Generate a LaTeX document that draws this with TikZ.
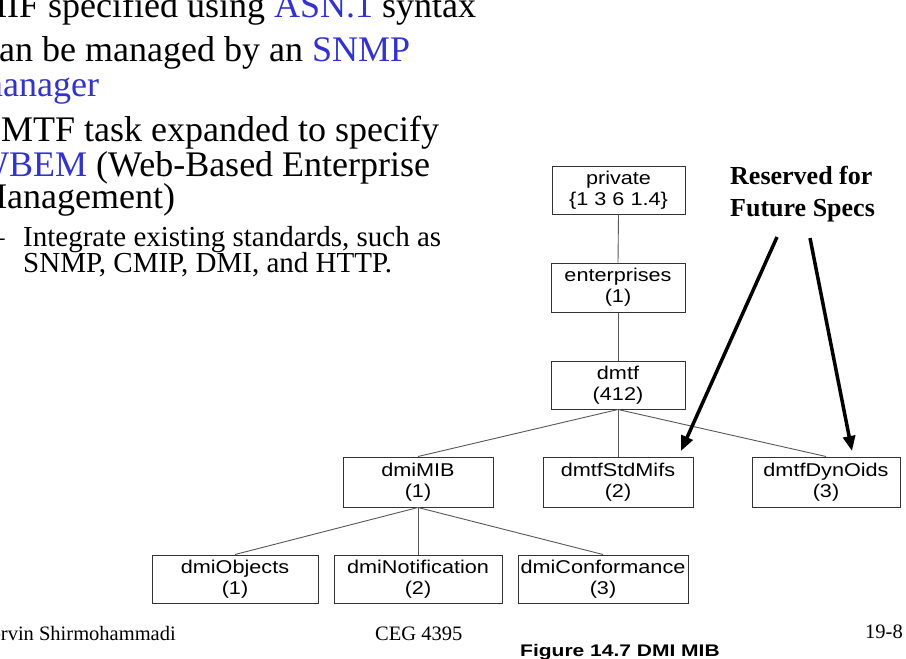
\documentclass[tikz,border=0pt]{standalone}
\usepackage{fontspec}
\setmainfont{Liberation Serif}
\newfontfamily\boxfont[FakeStretch=1.17]{Liberation Sans}
\newfontfamily\capfont[FakeStretch=1.25]{Liberation Sans}
\usetikzlibrary{arrows.meta}
\definecolor{slideblue}{RGB}{51,51,204}
\begin{document}
\begin{tikzpicture}[x=1pt,y=-1pt,
  mibbox/.style={draw=black!80, line width=1pt, inner sep=0pt, align=center,
    font=\boxfont\fontsize{18.5}{21}\selectfont},
  tree/.style={draw=black!65, line width=0.9pt},
  bigarrow/.style={draw=black, line width=3.5pt, -{Triangle[length=15pt,width=12pt]}},
  slide/.style={anchor=base west, inner sep=0pt, font=\fontsize{36}{36}\selectfont},
  subtext/.style={anchor=base west, inner sep=0pt, font=\fontsize{29}{29}\selectfont},
  foot/.style={inner sep=0pt, font=\fontsize{20.5}{20.5}\selectfont},
  note/.style={anchor=base west, inner sep=0pt, font=\bfseries\fontsize{26}{26}\selectfont}]
\useasboundingbox (0,0) rectangle (906,659);
\clip (0,0) rectangle (906,659);
\fill[white] (0,0) rectangle (906,659);

% slide text
\node[slide] (l1) at (-25,17) {MIF specified using \textcolor{slideblue}{ASN.1} syntax};
\node[slide] (l2) at (-25,61) {Can be managed by an \textcolor{slideblue}{SNMP}};
\node[slide] (l3) at (-25,96) {\textcolor{slideblue}{manager}};
\node[slide] (l4) at (-25,141) {DMTF task expanded to specify};
\node[slide] (l5) at (-25,176) {\textcolor{slideblue}{WBEM} (Web-Based Enterprise};
\node[slide] (l6) at (-25,208) {Management)};
\node[subtext] (dash) at (-10,246) {–};
\node[subtext] (s1) at (23,246) {Integrate existing standards, such as};
\node[subtext] (s2) at (23,272) {SNMP, CMIP, DMI, and HTTP.};

% reserved note
\node[note] (r1) at (730,184) {Reserved for};
\node[note] (r2) at (730,216) {Future Specs};

% MIB tree
\node[mibbox, minimum width=133pt, minimum height=48pt] (private) at (618.5,190) {private\\\{1 3 6 1.4\}};
\node[mibbox, minimum width=134pt, minimum height=49pt] (ent) at (618,287.5) {enterprises\\(1)};
\node[mibbox, minimum width=134pt, minimum height=48pt] (dmtf) at (618,385) {dmtf\\(412)};
\node[mibbox, minimum width=150pt, minimum height=50pt] (dmimib) at (418,482) {dmiMIB\\(1)};
\node[mibbox, minimum width=150pt, minimum height=50pt] (std) at (618,482) {dmtfStdMifs\\(2)};
\node[mibbox, minimum width=148pt, minimum height=50pt] (dyn) at (826,482) {dmtfDynOids\\(3)};
\node[mibbox, minimum width=166pt, minimum height=48pt] (obj) at (235,579) {dmiObjects\\(1)};
\node[mibbox, minimum width=168pt, minimum height=48pt] (notif) at (418,579) {dmiNotification\\(2)};
\node[mibbox, minimum width=170pt, minimum height=48pt] (conf) at (603,579) {dmiConformance\\(3)};

\draw[tree] (private.south) -- (ent.north);
\draw[tree] (ent.south) -- (dmtf.north);
\draw[tree] (dmtf.south) -- (dmimib.north);
\draw[tree] (dmtf.south) -- (std.north);
\draw[tree] (dmtf.south) -- (dyn.north);
\draw[tree] (dmimib.south) -- (obj.north);
\draw[tree] (dmimib.south) -- (notif.north);
\draw[tree] (dmimib.south) -- (conf.north);

% bold arrows
\coordinate (a1s) at (777,237);
\coordinate (a1e) at (681,451);
\coordinate (a2s) at (810,238);
\coordinate (a2e) at (852,451);
\draw[bigarrow] (a1s) -- (a1e);
\draw[bigarrow] (a2s) -- (a2e);

% footer
\node[foot, anchor=base west] (author) at (-30,640) {Shervin Shirmohammadi};
\node[foot, anchor=base west] (course) at (375,640) {CEG 4395};
\node[foot, anchor=base east] (page) at (903,638) {19-8};
\node[anchor=base west, inner sep=0pt, font=\capfont\bfseries\fontsize{16.8}{16.8}\selectfont] (caption) at (520,656) {Figure 14.7 DMI MIB};
\end{tikzpicture}
\end{document}
